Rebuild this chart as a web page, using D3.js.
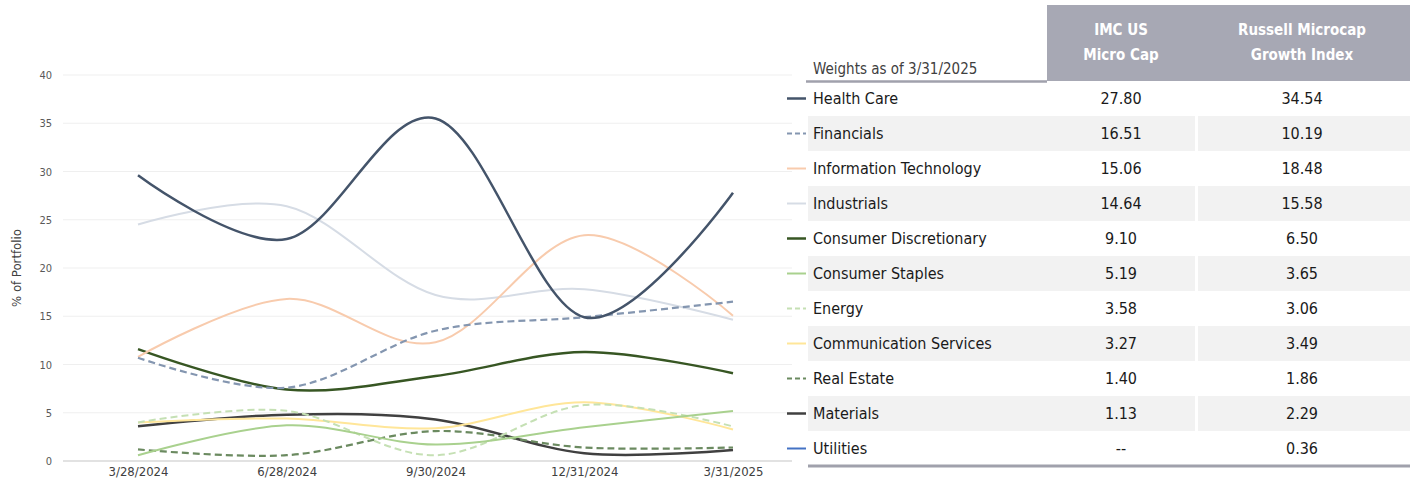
<!DOCTYPE html>
<html>
<head>
<meta charset="utf-8">
<script src="https://cdn.jsdelivr.net/npm/d3@7"></script>
<style>
  body { margin: 0; background: #fff; }
  svg { display: block; }
  .narrow { font-family: "Liberation Sans Narrow", "DejaVu Sans Condensed", "Roboto Condensed", sans-serif; }
</style>
</head>
<body>
<svg class="chart" width="1410" height="495"></svg>
<script>
// dates on the x axis
const dates = ["3/28/2024", "6/28/2024", "9/30/2024", "12/31/2024", "3/31/2025"];

// sector weights for the portfolio
const healthCare  = [29.6, 23.0, 35.5, 14.9, 27.80];
const financials  = [10.7, 7.6, 13.5, 14.9, 16.51];
const infoTech    = [10.8, 16.8, 12.3, 23.4, 15.06];
const industrials = [24.5, 26.4, 17.2, 17.8, 14.64];
const consDisc    = [11.6, 7.4, 8.8, 11.3, 9.10];
const consStaples = [0.6, 3.7, 1.7, 3.5, 5.19];
const energy      = [4.0, 5.2, 0.6, 5.8, 3.58];
const commServ    = [4.0, 4.4, 3.4, 6.1, 3.27];
const realEstate  = [1.2, 0.6, 3.1, 1.4, 1.40];
const materials   = [3.6, 4.8, 4.3, 0.8, 1.13];

// table
const sectors = ["Health Care", "Financials", "Information Technology", "Industrials",
  "Consumer Discretionary", "Consumer Staples", "Energy", "Communication Services",
  "Real Estate", "Materials", "Utilities"];
const imcWeights = ["27.80", "16.51", "15.06", "14.64", "9.10", "5.19", "3.58", "3.27", "1.40", "1.13", "--"];
const russellWeights = ["34.54", "10.19", "18.48", "15.58", "6.50", "3.65", "3.06", "3.49", "1.86", "2.29", "0.36"];
const yTicks = [0, 5, 10, 15, 20, 25, 30, 35, 40];

const seriesValues = [healthCare, financials, infoTech, industrials, consDisc, consStaples,
  energy, commServ, realEstate, materials, null];

const colors = ["#44546a", "#8496b0", "#f8cbad", "#d6dce5", "#375623", "#a9d18e",
  "#c5e0b4", "#ffe699", "#6b8a60", "#404040", "#4472c4"];
const dashed = [false, true, false, false, false, false, true, false, true, false, false];
const widths = [2.5, 2.2, 2, 2, 2.5, 2, 2, 2, 2.2, 2.5, 2];

const svg = d3.select(".chart");

// scales
const xScale = d3.scalePoint().domain(dates).range([138, 733]);
const yScale = d3.scaleLinear().domain([0, 40]).range([461, 75]);

// grid
svg.append("g")
  .selectAll("line")
  .data(yTicks)
  .enter()
  .append("line")
  .attr("x1", 63).attr("x2", 792)
  .attr("y1", d => yScale(d)).attr("y2", d => yScale(d))
  .attr("stroke", d => d === 0 ? "#d9d9d9" : "#efefef")
  .attr("stroke-width", d => d === 0 ? 1.5 : 1);

// y axis labels
const yAxis = d3.axisLeft(yScale).tickValues(yTicks).tickSize(0).tickPadding(0);
const yg = svg.append("g")
  .attr("transform", "translate(52,0)")
  .call(yAxis);
yg.select(".domain").remove();
yg.selectAll("text")
  .attr("class", "narrow")
  .style("font-size", "11px")
  .attr("fill", "#595959");

svg.append("text")
  .attr("class", "narrow")
  .attr("transform", "translate(21,268) rotate(-90)")
  .attr("text-anchor", "middle")
  .style("font-size", "13px")
  .attr("fill", "#404040")
  .text("% of Portfolio");

// x axis labels
const xAxis = d3.axisBottom(xScale).tickSize(0).tickPadding(0);
const xg = svg.append("g")
  .attr("transform", "translate(0,462)")
  .call(xAxis);
xg.select(".domain").remove();
xg.selectAll("text")
  .attr("class", "narrow")
  .attr("dy", "0.71em")
  .attr("y", 5)
  .style("font-size", "13px")
  .attr("fill", "#404040");

// lines
const line = d3.line()
  .x((d, i) => xScale(dates[i]))
  .y(d => yScale(d))
  .curve(d3.curveCardinal.tension(0));

const order = d3.range(sectors.length).reverse();
svg.append("g")
  .selectAll("path")
  .data(order.filter(i => seriesValues[i]))
  .enter()
  .append("path")
  .attr("d", i => line(seriesValues[i]))
  .attr("fill", "none")
  .attr("stroke", i => colors[i])
  .attr("stroke-width", i => widths[i])
  .attr("stroke-dasharray", i => dashed[i] ? "7,4" : null);

// table
const rowY = d3.scaleBand().domain(sectors).range([81, 81 + 35 * sectors.length]);
const col1 = 1121, col2 = 1302;

svg.append("rect")
  .attr("x", 1047).attr("y", 5).attr("width", 363).attr("height", 76)
  .attr("fill", "#a7a8b4");

const headers = [["IMC US", "Micro Cap"], ["Russell Microcap", "Growth Index"]];
headers.forEach((h, j) => {
  h.forEach((t, k) => {
    svg.append("text")
      .attr("class", "narrow")
      .attr("x", j === 0 ? col1 : col2)
      .attr("y", 35 + k * 25)
      .attr("text-anchor", "middle")
      .style("font-size", "15px")
      .style("font-weight", "bold")
      .attr("fill", "#ffffff")
      .text(t);
  });
});

svg.append("text")
  .attr("class", "narrow")
  .attr("x", 813).attr("y", 74)
  .style("font-size", "15px")
  .attr("fill", "#404040")
  .text("Weights as of 3/31/2025");

// shaded rows
const shaded = sectors.filter((d, i) => i % 2 === 1);
svg.append("g").selectAll("rect")
  .data(shaded)
  .enter()
  .append("rect")
  .attr("x", 808).attr("width", 387)
  .attr("y", d => rowY(d)).attr("height", rowY.bandwidth())
  .attr("fill", "#f2f2f2");
svg.append("g").selectAll("rect")
  .data(shaded)
  .enter()
  .append("rect")
  .attr("x", 1198).attr("width", 212)
  .attr("y", d => rowY(d)).attr("height", rowY.bandwidth())
  .attr("fill", "#f2f2f2");

svg.append("line")
  .attr("x1", 806).attr("x2", 1047).attr("y1", 81.5).attr("y2", 81.5)
  .attr("stroke", "#a0a1ac").attr("stroke-width", 2.5);
svg.append("line")
  .attr("x1", 808).attr("x2", 1410).attr("y1", 466).attr("y2", 466)
  .attr("stroke", "#a0a1ac").attr("stroke-width", 3);

const rows = svg.append("g").selectAll("g")
  .data(sectors)
  .enter()
  .append("g")
  .attr("transform", d => `translate(0,${rowY(d) + rowY.bandwidth() / 2})`);

rows.append("line")
  .attr("x1", 787).attr("x2", 806)
  .attr("stroke", (d, i) => colors[i])
  .attr("stroke-width", (d, i) => widths[i])
  .attr("stroke-dasharray", (d, i) => dashed[i] ? "5,3" : null);

rows.append("text")
  .attr("class", "narrow")
  .attr("x", 813).attr("dy", "0.35em")
  .style("font-size", "16px")
  .attr("fill", "#1a1a1a")
  .text(d => d);

rows.append("text")
  .attr("class", "narrow")
  .attr("x", col1).attr("dy", "0.35em")
  .attr("text-anchor", "middle")
  .style("font-size", "16px")
  .attr("fill", "#1a1a1a")
  .text((d, i) => imcWeights[i]);

rows.append("text")
  .attr("class", "narrow")
  .attr("x", col2).attr("dy", "0.35em")
  .attr("text-anchor", "middle")
  .style("font-size", "16px")
  .attr("fill", "#1a1a1a")
  .text((d, i) => russellWeights[i]);
</script>
</body>
</html>
